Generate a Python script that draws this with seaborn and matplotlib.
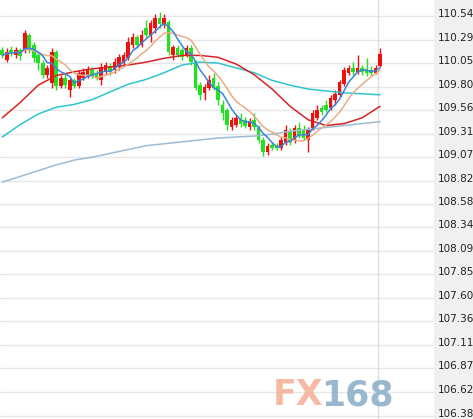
import numpy as np
import pandas as pd
import matplotlib
matplotlib.use("Agg")
import matplotlib.pyplot as plt
import matplotlib.transforms as mtransforms
from matplotlib.patches import Rectangle
import seaborn as sns

# candle data (one row per bar)
opens = [110.19, 110.08, 110.19, 110.13, 110.19, 110.19, 110.34, 110.24, 110.13, 110.05,
         109.93, 109.84, 110.17, 109.81, 109.90, 109.77, 109.87, 109.81, 109.90, 109.93,
         109.98, 109.95, 109.87, 109.96, 110.02, 109.98, 110.01, 110.05, 110.10, 110.24,
         110.32, 110.24, 110.42, 110.34, 110.42, 110.52, 110.45, 110.48, 110.13, 110.21,
         110.19, 110.13, 110.21, 110.06, 109.82, 109.74, 109.79, 109.89, 109.81, 109.61,
         109.56, 109.38, 109.41, 109.48, 109.46, 109.38, 109.46, 109.37, 109.25, 109.12,
         109.20, 109.19, 109.17, 109.23, 109.33, 109.25, 109.37, 109.35, 109.25, 109.37,
         109.48, 109.58, 109.61, 109.58, 109.67, 109.72, 109.83, 109.95, 110.00, 109.96,
         110.00, 109.99, 109.98, 109.95, 110.02]
closes = [110.13, 110.17, 110.16, 110.19, 110.12, 110.36, 110.19, 110.10, 110.05, 109.93,
          110.00, 110.17, 109.81, 109.89, 109.82, 109.87, 109.81, 109.95, 109.96, 109.98,
          109.92, 109.90, 110.01, 110.03, 109.96, 110.06, 110.11, 110.13, 110.27, 110.32,
          110.24, 110.34, 110.34, 110.47, 110.52, 110.46, 110.52, 110.17, 110.22, 110.13,
          110.11, 110.21, 110.06, 109.79, 109.72, 109.80, 109.87, 109.79, 109.67, 109.53,
          109.41, 109.46, 109.48, 109.42, 109.40, 109.44, 109.38, 109.25, 109.12, 109.19,
          109.17, 109.17, 109.25, 109.35, 109.23, 109.37, 109.30, 109.27, 109.35, 109.53,
          109.56, 109.54, 109.56, 109.69, 109.73, 109.85, 109.98, 110.00, 109.96, 110.00,
          109.96, 109.95, 109.95, 110.00, 110.14]
highs = [110.22, 110.21, 110.23, 110.22, 110.21, 110.39, 110.36, 110.27, 110.17, 110.08,
         110.03, 110.21, 110.19, 109.93, 109.94, 109.90, 109.90, 109.98, 110.00, 110.02,
         110.01, 109.98, 110.05, 110.06, 110.05, 110.10, 110.14, 110.17, 110.32, 110.36,
         110.34, 110.39, 110.50, 110.50, 110.56, 110.58, 110.56, 110.50, 110.24, 110.24,
         110.21, 110.24, 110.24, 110.08, 109.85, 109.83, 109.93, 109.95, 109.85, 109.67,
         109.58, 109.49, 109.51, 109.53, 109.49, 109.48, 109.53, 109.41, 109.28, 109.22,
         109.23, 109.22, 109.28, 109.41, 109.37, 109.41, 109.44, 109.41, 109.38, 109.56,
         109.61, 109.61, 109.67, 109.72, 109.77, 109.87, 110.01, 110.03, 110.06, 110.13,
         110.03, 110.10, 110.02, 110.03, 110.21]
lows = [110.10, 110.06, 110.12, 110.10, 110.08, 110.16, 110.16, 110.06, 109.98, 109.89,
        109.89, 109.79, 109.77, 109.79, 109.79, 109.70, 109.79, 109.79, 109.87, 109.90,
        109.89, 109.87, 109.82, 109.93, 109.93, 109.95, 109.98, 110.03, 110.08, 110.21,
        110.21, 110.22, 110.32, 110.27, 110.36, 110.42, 110.42, 110.13, 110.08, 110.11,
        110.08, 110.11, 110.03, 109.77, 109.67, 109.67, 109.77, 109.77, 109.61, 109.46,
        109.35, 109.35, 109.38, 109.38, 109.37, 109.35, 109.35, 109.22, 109.08, 109.09,
        109.15, 109.15, 109.15, 109.20, 109.20, 109.22, 109.27, 109.25, 109.12, 109.35,
        109.46, 109.51, 109.54, 109.56, 109.61, 109.70, 109.81, 109.93, 109.93, 109.94,
        109.93, 109.92, 109.93, 109.94, 110.01]

# longer moving averages, read at every 4th bar
ma_idx = [0, 4, 8, 12, 16, 20, 24, 28, 32, 36, 40, 44, 48, 52, 56, 60, 64, 68, 72, 76, 80, 84]
ma_red = [109.48, 109.64, 109.82, 109.92, 109.96, 109.99, 110.01, 110.03, 110.06, 110.10, 110.13,
          110.13, 110.11, 110.04, 109.93, 109.78, 109.60, 109.46, 109.40, 109.42, 109.48, 109.60]
ma_cyan = [109.28, 109.41, 109.52, 109.59, 109.62, 109.67, 109.75, 109.83, 109.88, 109.95, 110.03,
           110.06, 110.05, 110.00, 109.95, 109.87, 109.82, 109.78, 109.76, 109.74, 109.73, 109.72]
ma_steel = [108.81, 108.87, 108.93, 108.99, 109.04, 109.07, 109.11, 109.15, 109.19, 109.21, 109.23,
            109.25, 109.27, 109.28, 109.29, 109.31, 109.34, 109.36, 109.38, 109.40, 109.42, 109.44]

tick_labels = ["110.54", "110.29", "110.05", "109.80", "109.56", "109.31", "109.07", "108.82",
               "108.58", "108.34", "108.09", "107.85", "107.60", "107.36", "107.11", "106.87",
               "106.62", "106.38"]

sns.set_style("white")

df = pd.DataFrame({"open": opens, "close": closes, "high": highs, "low": lows})
df["x"] = np.arange(len(df))
df["ma5"] = df["close"].rolling(5, min_periods=1).mean()
df["ma10"] = df["close"].rolling(10, min_periods=1).mean()

long_ma = pd.DataFrame({"x": ma_idx, "red": ma_red, "cyan": ma_cyan, "steel": ma_steel})

fig = plt.figure(figsize=(4.73, 4.19), dpi=100, facecolor="white")
fig.patches.append(Rectangle((434 / 473, 0), 39 / 473, 1, transform=fig.transFigure,
                             facecolor="#f0f0f0", edgecolor="none", zorder=-1))
ax = fig.add_axes([0, 0, 434 / 473, 1])

# y grid + right side labels (labels sit a little above their grid line)
tick_vals = [float(t) for t in tick_labels]
ax.set_yticks(tick_vals)
ax.set_yticklabels(tick_labels)
ax.yaxis.tick_right()
ax.tick_params(axis="y", length=0, pad=2.5, labelsize=7.5, labelcolor="#222222")
ax.set_xticks([])
ax.grid(axis="y", color="#e6e6e6", lw=1)
ax.set_axisbelow(True)
for s in ax.spines.values():
    s.set_visible(False)

# cursor line
ax.axvline(len(df) - 1.4, color="#dddddd", lw=1, zorder=1)

# candles
up = df["close"] >= df["open"]
cols = np.where(up, "#f01010", "#22e022")
ax.vlines(df["x"], df["low"], df["high"], colors=cols, lw=1, zorder=2)
body_bottom = np.minimum(df["open"], df["close"])
body_h = np.maximum(np.abs(df["close"] - df["open"]), 0.01)
ax.bar(df["x"], body_h, bottom=body_bottom, width=0.8, color=cols, lw=0, zorder=3)

# moving averages
sns.lineplot(data=long_ma, x="x", y="steel", ax=ax, color="#9dbbd2", lw=1.1, zorder=4)
sns.lineplot(data=long_ma, x="x", y="cyan", ax=ax, color="#2ec4cf", lw=1.1, zorder=4)
sns.lineplot(data=long_ma, x="x", y="red", ax=ax, color="#d42424", lw=1.1, zorder=4)
sns.lineplot(data=df, x="x", y="ma10", ax=ax, color="#e9ac84", lw=1.1, zorder=5)
sns.lineplot(data=df, x="x", y="ma5", ax=ax, color="#3a82dc", lw=1.1, zorder=5)

ax.set_xlabel("")
ax.set_ylabel("")
ax.set_xlim(-0.5, 96)
ax.set_ylim(106.344, 110.707)

shift = mtransforms.ScaledTranslation(0, 3 / 100, fig.dpi_scale_trans)
for lab in ax.get_yticklabels():
    lab.set_transform(lab.get_transform() + shift)

# watermark
fig.text(273 / 473, 14 / 419, "FX", fontsize=25, fontweight="bold", color="#f4b29a",
         alpha=0.9, ha="left", va="baseline")
fig.text(394 / 473, 14 / 419, "168", fontsize=25, fontweight="bold", color="#8db1ca",
         alpha=0.9, ha="right", va="baseline")

fig.savefig("out.png", dpi=100, facecolor="white")
